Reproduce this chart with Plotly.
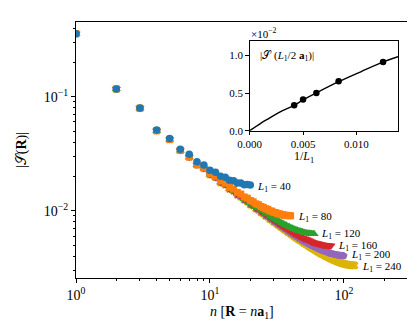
import math
import plotly.graph_objects as go

# ---------------- data ----------------
S_L40 = [0.357, 0.117, 0.0796, 0.051, 0.043, 0.0346, 0.0312, 0.0269, 0.0252, 0.0226,
         0.0218, 0.0201, 0.0197, 0.0185, 0.0183, 0.0175, 0.0175, 0.0169, 0.0170, 0.0168]

S_L80 = [0.357, 0.1168, 0.0792, 0.0503, 0.0422, 0.0338, 0.0297, 0.0254, 0.0238, 0.0211,
         0.0200, 0.0182, 0.0174, 0.0160, 0.0155, 0.0145, 0.0140, 0.0132, 0.0129, 0.0123,
         0.0120, 0.0115, 0.0113, 0.0109, 0.0107, 0.0104, 0.0103, 0.00998, 0.00991, 0.00966,
         0.00962, 0.00941, 0.00940, 0.00923, 0.00924, 0.00910, 0.00913, 0.00903, 0.00908, 0.00901]

S_L120 = [0.357, 0.1168, 0.0792, 0.0503, 0.0422, 0.0338,
          0.0295, 0.0252, 0.0236, 0.0208, 0.0197, 0.0178, 0.0170, 0.0156, 0.0150, 0.0140,
          0.0135, 0.0127, 0.0123, 0.0116,
          0.0113, 0.0108, 0.0105, 0.0101, 0.00987, 0.00947, 0.00931, 0.00896, 0.00883, 0.00853,
          0.00842, 0.00815, 0.00807, 0.00784, 0.00775, 0.00756, 0.00749, 0.00732, 0.00727, 0.00710,
          0.00707, 0.00693, 0.00689, 0.00677, 0.00675, 0.00664, 0.00663, 0.00653, 0.00653, 0.00644,
          0.00644, 0.00637, 0.00638, 0.00631, 0.00633, 0.00627, 0.00630, 0.00625, 0.00628, 0.00626]

S_L160 = [0.357, 0.1168, 0.0792, 0.0503, 0.0422, 0.0338,
          0.0295, 0.0252, 0.0235, 0.0207, 0.0196, 0.0177, 0.0169, 0.0155, 0.0149, 0.0138,
          0.0134, 0.0125, 0.0121, 0.0114,
          0.0111, 0.0105, 0.0103, 0.0098, 0.00959, 0.00918, 0.0090, 0.00864, 0.00849, 0.00818,
          0.00805, 0.00777, 0.00766, 0.00742, 0.00732, 0.0071, 0.00702, 0.00683, 0.00675, 0.00658,
          0.00651, 0.00636, 0.0063, 0.00616, 0.00611, 0.00598, 0.00594, 0.00582, 0.00579, 0.00568,
          0.00572, 0.00562, 0.00559, 0.00551, 0.00547, 0.00539, 0.00537, 0.0053, 0.00529, 0.00522,
          0.00525, 0.00519, 0.00518, 0.00512, 0.00512, 0.00507, 0.00507, 0.00502, 0.00502, 0.00498,
          0.00503, 0.00499, 0.0050, 0.00497, 0.00498, 0.00494, 0.00496, 0.00493, 0.00494, 0.00492]

S_L200 = [0.357, 0.1168, 0.0792, 0.0503, 0.0422, 0.0338,
          0.0294, 0.0251, 0.0235, 0.0207, 0.0196, 0.0177, 0.0169, 0.0154, 0.0148, 0.0137,
          0.0133, 0.0124, 0.0120, 0.0113,
          0.0110, 0.0104, 0.0102, 0.00968, 0.00946, 0.00905, 0.00886, 0.0085, 0.00834, 0.00802,
          0.00788, 0.00761, 0.00748, 0.00724, 0.00713, 0.00691, 0.00682, 0.00662, 0.00653, 0.00635,
          0.00628, 0.00612, 0.00605, 0.00591, 0.00585, 0.00571, 0.00566, 0.00554, 0.00549, 0.00537,
          0.00538, 0.00528, 0.00524, 0.00514, 0.00511, 0.00502, 0.00499, 0.00491, 0.00488, 0.00481,
          0.00482, 0.00474, 0.00472, 0.00465, 0.00463, 0.00457, 0.00456, 0.0045, 0.00449, 0.00443,
          0.00445, 0.0044, 0.00439, 0.00435, 0.00434, 0.00429, 0.00428, 0.00424, 0.00424, 0.0042,
          0.00422, 0.00418, 0.00418, 0.00415, 0.00415, 0.00412, 0.00413, 0.0041, 0.0041, 0.00408,
          0.00408, 0.00406, 0.00407, 0.00405, 0.00405, 0.00404, 0.00405, 0.00403, 0.00404, 0.00403]

S_L240 = [0.357, 0.1168, 0.0792, 0.0503, 0.0422, 0.0338,
          0.0294, 0.0251, 0.0234, 0.0207, 0.0195, 0.0176, 0.0168, 0.0154, 0.0148, 0.0137,
          0.0132, 0.0124, 0.0120, 0.0113,
          0.0110, 0.0104, 0.0101, 0.00962, 0.0094, 0.00898, 0.00879, 0.00842, 0.00826, 0.00794,
          0.0078, 0.00752, 0.00739, 0.00714, 0.00703, 0.00681, 0.00671, 0.00651, 0.00642, 0.00624,
          0.00616, 0.00599, 0.00592, 0.00577, 0.00571, 0.00557, 0.00551, 0.00539, 0.00534, 0.00522,
          0.00517, 0.00507, 0.00502, 0.00492, 0.00488, 0.00479, 0.00475, 0.00467, 0.00464, 0.00456,
          0.00453, 0.00445, 0.00442, 0.00435, 0.00433, 0.00426, 0.00424, 0.00418, 0.00416, 0.0041,
          0.00408, 0.00403, 0.00401, 0.00396, 0.00395, 0.0039, 0.00388, 0.00384, 0.00383, 0.00379,
          0.00377, 0.00374, 0.00373, 0.00369, 0.00368, 0.00365, 0.00364, 0.00361, 0.0036, 0.00357,
          0.00356, 0.00353, 0.00353, 0.0035, 0.0035, 0.00347, 0.00347, 0.00345, 0.00345, 0.00342,
          0.00342, 0.0034, 0.0034, 0.00338, 0.00338, 0.00337, 0.00337, 0.00335, 0.00335, 0.00334,
          0.00334, 0.00333, 0.00333, 0.00332, 0.00333, 0.00332, 0.00332, 0.00331, 0.00332, 0.00331]

L1_values = [40, 80, 120, 160, 200, 240]
series = [S_L40, S_L80, S_L120, S_L160, S_L200, S_L240]

# inset: |S(L1/2 a1)| versus 1/L1
inset_invL = [1 / 80, 1 / 120, 1 / 160, 1 / 200, 1 / 240]
inset_S = [0.00916, 0.00659, 0.00503, 0.00414, 0.00338]
fit_x = [0.0, 0.001, 0.002, 0.003, 0.00417, 0.005, 0.00625, 0.00833, 0.0105, 0.0125, 0.0139]
fit_y = [0.0, 0.00095, 0.0018, 0.0026, 0.00338, 0.0041, 0.00503, 0.00652, 0.0079, 0.00916, 0.00985]

x_major = [1, 10, 100]
x_major_text = ["10<sup>0</sup>", "10<sup>1</sup>", "10<sup>2</sup>"]
y_major = [0.01, 0.1]
y_major_text = ["10<sup>−2</sup>", "10<sup>−1</sup>"]

# ---------------- styles ----------------
colors = ["#1f77b4", "#ff7f0e", "#2ca02c", "#d62728", "#9467bd", "#dcb40a"]
symbols = ["circle", "square", "triangle-up", "triangle-down", "pentagon", "x"]
sizes = [7.5, 7, 8, 8, 7.5, 7]
label_yshift = [-2, -1, 0, 0, 1, -2]
FONT = "Liberation Serif"

W, H = 415, 326
ML, MR, MT, MB = 68, 15, 14, 56
PW, PH = W - ML - MR, H - MT - MB


def px(xp):
    return (xp - ML) / PW


def py(yp):
    return (H - MB - yp) / PH


fig = go.Figure()

for i in reversed(range(len(series))):
    vals = series[i]
    n = list(range(1, len(vals) + 1))
    fig.add_trace(go.Scatter(
        x=n, y=vals, mode="markers", showlegend=False,
        marker=dict(symbol=symbols[i], size=sizes[i], color=colors[i], line=dict(width=0)),
        xaxis="x", yaxis="y"))

# inset traces
fig.add_trace(go.Scatter(x=fit_x, y=fit_y, mode="lines",
                         line=dict(color="black", width=1.4, shape="spline", smoothing=0.6),
                         showlegend=False, xaxis="x2", yaxis="y2"))
fig.add_trace(go.Scatter(x=inset_invL, y=inset_S, mode="markers", marker=dict(color="black", size=6.5),
                         showlegend=False, xaxis="x2", yaxis="y2"))

x_minor = [m * 10 ** k for k in range(0, 3) for m in range(2, 10)]
x_minor = [v for v in x_minor if v < 300.5]
y_minor = [m * 10 ** k for k in (-3, -2, -1) for m in range(2, 10)]

annotations = []
for L1, vals, ys in zip(L1_values, series, label_yshift):
    n_end = len(vals)
    annotations.append(dict(
        x=math.log10(n_end), y=math.log10(vals[-1]), xref="x", yref="y",
        text=f"<i>L</i><sub>1</sub> = {L1}", showarrow=False,
        xanchor="left", yanchor="middle", xshift=5, yshift=ys,
        font=dict(family=FONT, size=11, color="black")))

annotations += [
    dict(x=px(234), y=py(304), xref="paper", yref="paper", showarrow=False,
         text="<i>n</i> [<b>R</b> = <i>n</i><b>a</b><sub>1</sub>]", xanchor="center", yanchor="middle",
         font=dict(family=FONT, size=14, color="black")),
    dict(x=px(14), y=py(142), xref="paper", yref="paper", showarrow=False, textangle=-90,
         text="|𝒮(<b>R</b>)|", xanchor="center", yanchor="middle",
         font=dict(family=FONT, size=14, color="black")),
    dict(x=px(241), y=py(25), xref="paper", yref="paper", showarrow=False,
         text="×10<sup>−2</sup>", xanchor="left", yanchor="middle",
         font=dict(family=FONT, size=11, color="black")),
    dict(x=px(279), y=py(48), xref="paper", yref="paper", showarrow=False,
         text="|𝒮 (<i>L</i><sub>1</sub>/2 <b>a</b><sub>1</sub>)|", xanchor="center", yanchor="middle",
         font=dict(family=FONT, size=11, color="black")),
    dict(x=px(296), y=py(149), xref="paper", yref="paper", showarrow=False,
         text="1/<i>L</i><sub>1</sub>", xanchor="center", yanchor="middle",
         font=dict(family=FONT, size=12, color="black")),
]

axis_common = dict(showgrid=False, zeroline=False, showline=True, linecolor="black", linewidth=1,
                   mirror=True, ticks="outside", tickcolor="black", tickwidth=1,
                   tickfont=dict(family=FONT, size=14, color="black"))
inset_tickfont = dict(family=FONT, size=11, color="black")

fig.update_layout(
    width=W, height=H,
    margin=dict(l=ML, r=MR, t=MT, b=MB),
    paper_bgcolor="white", plot_bgcolor="white",
    font=dict(family=FONT, color="black"),
    xaxis=dict(type="log", range=[0, 2.478], tickvals=x_major, ticktext=x_major_text, ticklen=4,
               minor=dict(tickvals=x_minor, ticks="outside", ticklen=2, tickcolor="black", tickwidth=0.8, showgrid=False),
               domain=[0, 1], anchor="y", **axis_common),
    yaxis=dict(type="log", range=[-2.590, -0.345], tickvals=y_major, ticktext=y_major_text, ticklen=4,
               minor=dict(tickvals=y_minor, ticks="outside", ticklen=2, tickcolor="black", tickwidth=0.8, showgrid=False),
               domain=[0, 1], anchor="x", **axis_common),
    xaxis2=dict(range=[0, 0.0139], tickvals=[0, 0.005, 0.010], ticktext=["0.000", "0.005", "0.010"],
                domain=[px(241.7), px(390)], anchor="y2", ticklen=3.5,
                **{**axis_common, "tickfont": inset_tickfont}),
    yaxis2=dict(range=[0, 0.0119], tickvals=[0, 0.005, 0.010], ticktext=["0.0", "0.5", "1.0"],
                domain=[py(122.7), py(33.3)], anchor="x2", ticklen=3.5,
                **{**axis_common, "tickfont": inset_tickfont}),
    annotations=annotations,
)

fig.write_html("out.html")
